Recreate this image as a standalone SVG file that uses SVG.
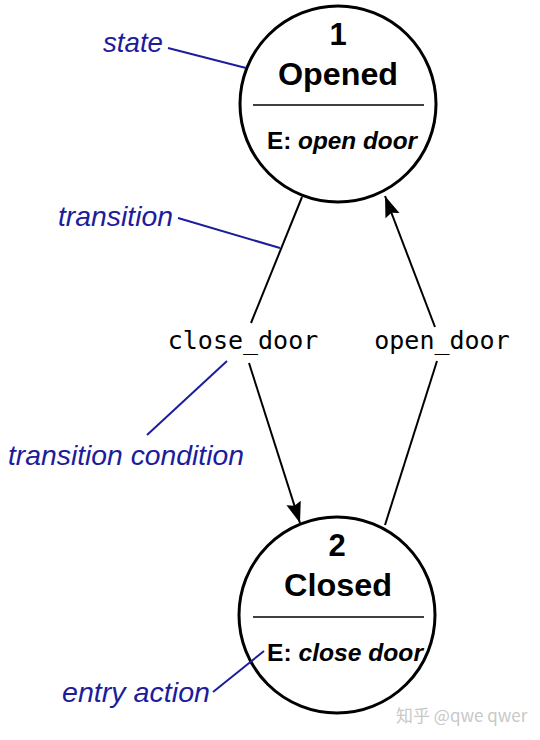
<svg xmlns="http://www.w3.org/2000/svg" width="540" height="740" viewBox="0 0 540 740">
<style>
.st{fill:#fff;stroke:#000;stroke-width:3}
.div{stroke:#000;stroke-width:1.6}
.num{font-family:"Liberation Sans",Arial,sans-serif;font-weight:bold;font-size:31px;text-anchor:middle;fill:#000}
.ent{font-family:"Liberation Sans",Arial,sans-serif;font-weight:bold;font-size:23px;fill:#000}
.mono{font-family:"DejaVu Sans Mono",monospace;font-size:25px;text-anchor:middle;fill:#000}
.ann{font-family:"Liberation Sans",Arial,sans-serif;font-style:italic;font-size:28px;fill:#1c1c9c}
.edge{stroke:#000;stroke-width:2;fill:none}
.lead{stroke:#1c1c9c;stroke-width:2;fill:none}
.wm{font-family:"Noto Sans CJK SC","Noto Sans",sans-serif;font-size:17px;fill:#c8c8c8}
</style>
<defs>
<marker id="arr" markerUnits="userSpaceOnUse" markerWidth="24" markerHeight="18" refX="21" refY="8" orient="auto">
<path d="M0,0.5 L21,8 L0,15.5 L3,8 Z" fill="#000"/>
</marker>
</defs>
<rect width="540" height="740" fill="#fff"/>
<g id="connectors">
<line class="edge" x1="302" y1="197" x2="251" y2="323"/>
<line class="edge" x1="249" y1="363" x2="300" y2="523" marker-end="url(#arr)"/>
<line class="edge" x1="385" y1="525" x2="437" y2="361"/>
<line class="edge" x1="435" y1="327" x2="385" y2="196" marker-end="url(#arr)"/>
<text class="mono" x="243" y="349">close_door</text>
<text class="mono" x="442" y="349">open_door</text>
</g>
<g id="state1">
<circle class="st" cx="338" cy="104" r="98"/>
<text class="num" x="338" y="45">1</text>
<text class="num" x="338" y="85" textLength="120" lengthAdjust="spacingAndGlyphs">Opened</text>
<line class="div" x1="253" y1="105" x2="424" y2="105"/>
<text class="ent" x="267" y="149" textLength="150" lengthAdjust="spacingAndGlyphs">E: <tspan font-style="italic">open door</tspan></text>
</g>
<g id="state2">
<circle class="st" cx="337" cy="615" r="98"/>
<text class="num" x="337" y="556">2</text>
<text class="num" x="338" y="596" textLength="108" lengthAdjust="spacingAndGlyphs">Closed</text>
<line class="div" x1="253" y1="617" x2="424" y2="617"/>
<text class="ent" x="267" y="661" textLength="156" lengthAdjust="spacingAndGlyphs">E: <tspan font-style="italic">close door</tspan></text>
</g>
<g id="annotations">
<text class="ann" x="103" y="52" textLength="60" lengthAdjust="spacingAndGlyphs">state</text>
<line class="lead" x1="168" y1="48" x2="246" y2="68"/>
<text class="ann" x="58" y="226" textLength="115" lengthAdjust="spacingAndGlyphs">transition</text>
<line class="lead" x1="178" y1="218" x2="280" y2="248"/>
<text class="ann" x="8" y="465" textLength="236" lengthAdjust="spacingAndGlyphs">transition condition</text>
<line class="lead" x1="147" y1="435" x2="227" y2="361"/>
<text class="ann" x="62" y="702" textLength="148" lengthAdjust="spacingAndGlyphs">entry action</text>
<line class="lead" x1="213" y1="692" x2="264" y2="651"/>
</g>
<text class="wm" x="396" y="722">知乎 @qwe qwer</text>
</svg>
